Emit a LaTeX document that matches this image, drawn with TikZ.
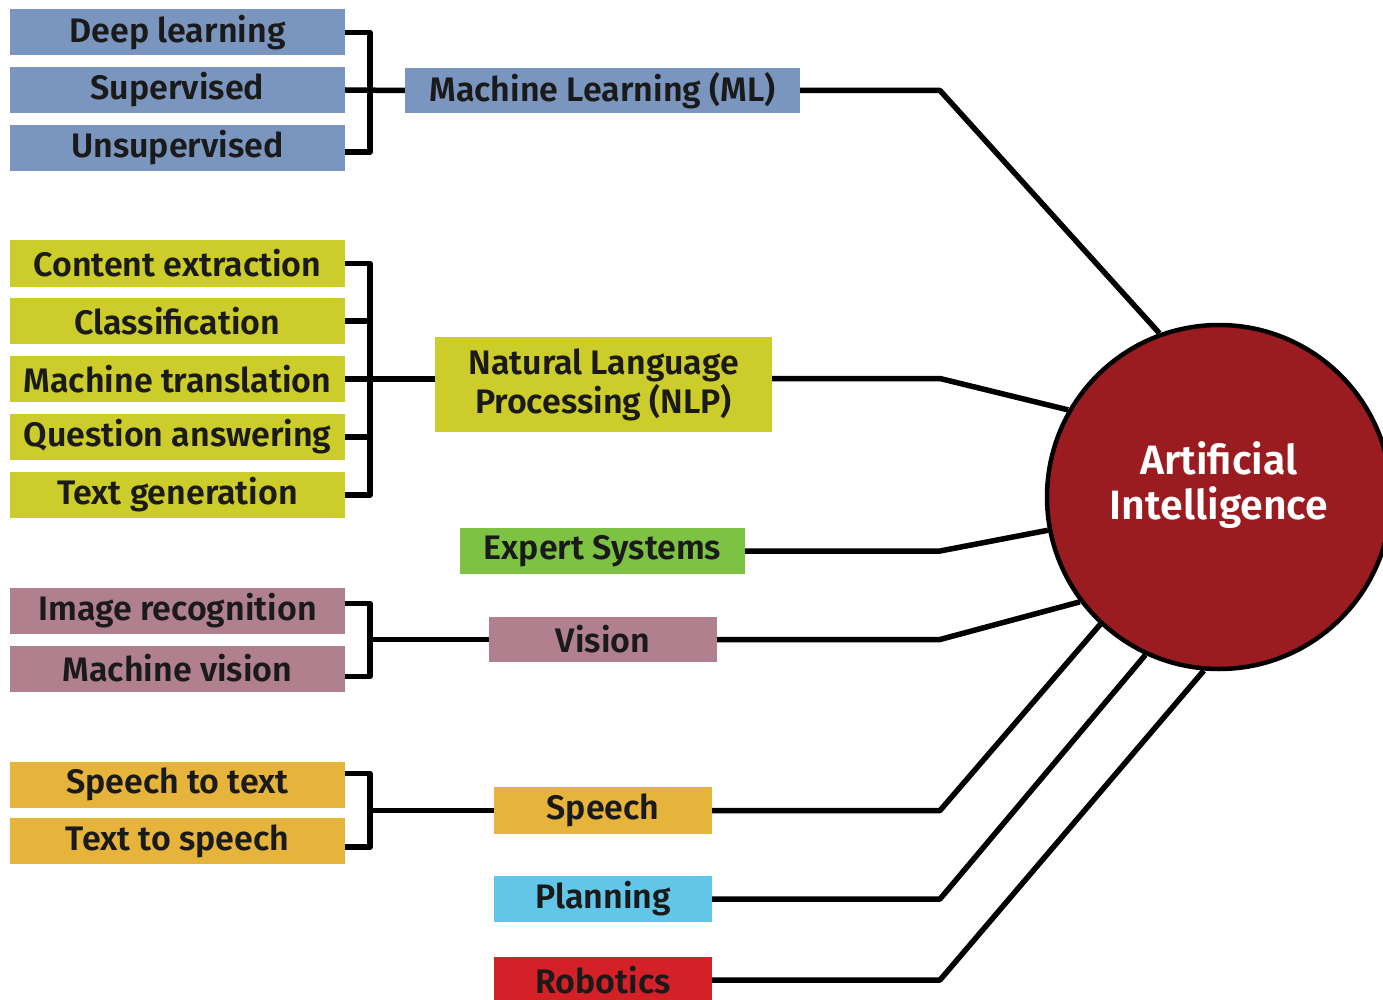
\documentclass[tikz,border=0pt]{standalone}
\usepackage{fontspec}
\setmainfont{Fira Sans}[UprightFont=* SemiBold]
\usetikzlibrary{backgrounds}
\definecolor{mlblue}{HTML}{7A96BE}
\definecolor{nlpgreen}{HTML}{CCCC2A}
\definecolor{esgreen}{HTML}{7DC242}
\definecolor{vismauve}{HTML}{B0808F}
\definecolor{spgold}{HTML}{E6B43A}
\definecolor{plblue}{HTML}{62C6E8}
\definecolor{rbred}{HTML}{D42027}
\definecolor{aired}{HTML}{9B1C20}
\definecolor{txt}{HTML}{1A1A1A}
\begin{document}
\begin{tikzpicture}[x=1pt,y=-1pt,
  box/.style={rectangle, inner sep=0pt, text=txt, align=center,
    font=\fontsize{34}{39}\selectfont},
  leaf/.style={box, minimum width=335pt, minimum height=46pt},
  link/.style={line width=5.5pt, draw=black, line join=round},
]
\useasboundingbox (0,0) rectangle (1383,1000);

% central circle
\node[circle, draw=black, line width=4.5pt, fill=aired, minimum size=344pt, inner sep=0pt] (ai) at (1219,497) {};
\node[text=white, align=center, font=\fontsize{41}{45}\selectfont] (ailabel) at ([yshift=12pt]ai.center) {Artificial\\Intelligence};

\coordinate (elb) at (940,0);
\coordinate (br) at (370,0);

% ML
\node[leaf, fill=mlblue] (dl) at (177.5,32.5) {Deep learning};
\node[leaf, fill=mlblue] (sup) at (177.5,90) {Supervised};
\node[leaf, fill=mlblue] (uns) at (177.5,148) {Unsupervised};
\node[box, fill=mlblue, minimum width=395pt, minimum height=45pt] (ml) at (602.5,90.5) {Machine Learning (ML)};

% NLP
\node[leaf, fill=nlpgreen] (ce) at (177.5,263.5) {Content extraction};
\node[leaf, fill=nlpgreen] (cl) at (177.5,321) {Classification};
\node[leaf, fill=nlpgreen] (mt) at (177.5,379) {Machine translation};
\node[leaf, fill=nlpgreen] (qa) at (177.5,437) {Question answering};
\node[leaf, fill=nlpgreen] (tg) at (177.5,495) {Text generation};
\node[box, fill=nlpgreen, minimum width=337pt, minimum height=95pt] (nlp) at (603.5,384.5) {Natural Language\\Processing (NLP)};

% Expert systems
\node[box, fill=esgreen, minimum width=285pt, minimum height=46pt] (es) at (602.5,551) {Expert Systems};

% Vision
\node[leaf, fill=vismauve] (ir) at (177.5,610.5) {Image recognition};
\node[leaf, fill=vismauve] (mv) at (177.5,668.5) {Machine vision};
\node[box, fill=vismauve, minimum width=228pt, minimum height=45pt] (vis) at (603,639.5) {Vision};

% Speech
\node[leaf, fill=spgold] (stt) at (177.5,784.5) {Speech to text};
\node[leaf, fill=spgold] (tts) at (177.5,841) {Text to speech};
\node[box, fill=spgold, minimum width=218pt, minimum height=47pt] (sp) at (603,810.5) {Speech};

% Planning, Robotics
\node[box, fill=plblue, minimum width=218pt, minimum height=46pt] (pl) at (603,899) {Planning};
\node[box, fill=rbred, minimum width=218pt, minimum height=46pt] (rb) at (603,980) {Robotics};

\begin{pgfonlayer}{background}
% brackets
\draw[link] (dl.east) -- (dl.east -| br) -- ([yshift=-4pt]uns.east -| br) -- ([yshift=-4pt]uns.east);
\draw[link] (sup.east) -- (ml.west);
\draw[link] (ce.east) -- (ce.east -| br) -- (tg.east -| br) -- (tg.east);
\draw[link] (cl.east) -- (cl.east -| br);
\draw[link] (qa.east) -- (qa.east -| br);
\draw[link] (mt.east) -- (nlp.west |- mt.east);
\draw[link] ([yshift=7pt]ir.east) -- ([yshift=7pt]ir.east -| br) -- ([yshift=-8pt]mv.east -| br) -- ([yshift=-8pt]mv.east);
\draw[link] (vis.west -| br) -- (vis.west);
\draw[link] ([yshift=11pt]stt.east) -- ([yshift=11pt]stt.east -| br) -- ([yshift=-6pt]tts.east -| br) -- ([yshift=-6pt]tts.east);
\draw[link] (sp.west -| br) -- (sp.west);
% to the circle
\draw[link] (ml.east) -- (ml.east -| elb) -- (ai.110.1);
\draw[link] ([yshift=6pt]nlp.east) -- ([yshift=6pt]nlp.east -| elb) -- (ai.150.1);
\draw[link] (es.east) -- (es.east -| elb) -- (ai.191.8);
\draw[link] (vis.east) -- (vis.east -| elb) -- (ai.217.1);
\draw[link] (sp.east) -- (sp.east -| elb) -- (ai.227.7);
\draw[link] (pl.east) -- (pl.east -| elb) -- (ai.245.9);
\draw[link] (rb.east) -- (rb.east -| elb) -- (ai.265.5);
\end{pgfonlayer}
\end{tikzpicture}
\end{document}
